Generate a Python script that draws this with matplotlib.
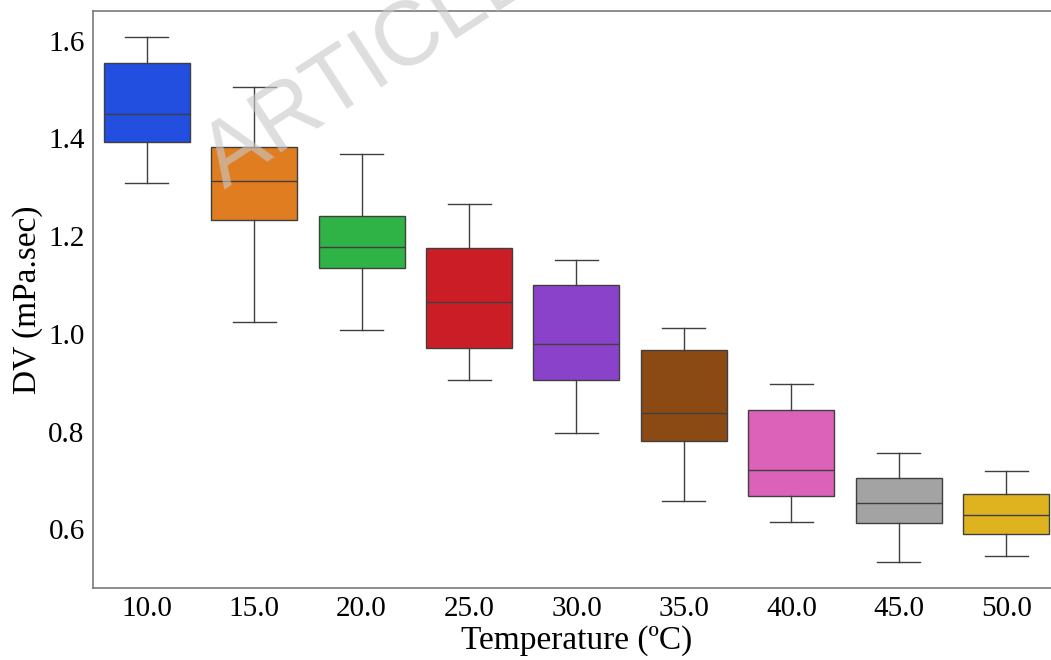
import numpy as np
import matplotlib
matplotlib.use("Agg")
import matplotlib.pyplot as plt
import seaborn as sns

# five-number summaries of DV per temperature
temps = ["10.0", "15.0", "20.0", "25.0", "30.0", "35.0", "40.0", "45.0", "50.0"]
whis_lo = [1.308, 1.024, 1.008, 0.906, 0.797, 0.659, 0.615, 0.534, 0.546]
q1      = [1.392, 1.233, 1.135, 0.971, 0.905, 0.780, 0.669, 0.613, 0.590]
median  = [1.450, 1.313, 1.178, 1.065, 0.980, 0.838, 0.721, 0.655, 0.630]
q3      = [1.554, 1.382, 1.241, 1.176, 1.100, 0.967, 0.845, 0.705, 0.673]
whis_hi = [1.607, 1.505, 1.368, 1.266, 1.151, 1.013, 0.897, 0.757, 0.719]

colors = [sns.desaturate(c, 0.75) for c in sns.color_palette("bright", len(temps))]
line_col = "#3f3f3f"

plt.rcParams["font.family"] = ["Liberation Serif", "DejaVu Serif"]

fig = plt.figure(figsize=(10.51, 6.6), dpi=100)
ax = fig.add_axes([0.0885, 0.109, 0.920, 0.874])

stats = []
for i in range(len(temps)):
    stats.append({"whislo": whis_lo[i], "q1": q1[i], "med": median[i],
                  "q3": q3[i], "whishi": whis_hi[i], "fliers": []})

pos = np.arange(len(temps))
bp = ax.bxp(stats, positions=pos, widths=0.8, patch_artist=True,
            showfliers=False,
            boxprops=dict(edgecolor=line_col, linewidth=1.0),
            medianprops=dict(color=line_col, linewidth=1.0),
            whiskerprops=dict(color=line_col, linewidth=1.0),
            capprops=dict(color=line_col, linewidth=1.0))
for patch, c in zip(bp["boxes"], colors):
    patch.set_facecolor(c)

# caps span half the box width, as seaborn draws them
for i, cap in enumerate(bp["caps"]):
    x = pos[i // 2]
    cap.set_xdata([x - 0.2, x + 0.2])

ax.set_xlim(-0.5, len(temps) - 0.5)
ax.set_ylim(0.480, 1.660)
ax.set_xticks(pos)
ax.set_xticklabels(temps)
ax.set_yticks([0.6, 0.8, 1.0, 1.2, 1.4, 1.6])
ax.set_yticklabels(["0.6", "0.8", "1.0", "1.2", "1.4", "1.6"])
ax.tick_params(length=0, labelsize=21, pad=6)
for s in ax.spines.values():
    s.set_color("#7a7a7a")
    s.set_linewidth(1.2)

ax.set_xlabel("Temperature (ºC)", fontsize=24, labelpad=2)
ax.set_ylabel("DV (mPa.sec)", fontsize=24, labelpad=4)

# watermark
fig.text(0.214, 0.714, "ARTICLE IN PRESS", rotation=33, rotation_mode="anchor",
         ha="left", va="baseline", fontsize=65, family="Liberation Sans",
         color="#c9c9c9", alpha=0.62, zorder=10)

fig.savefig("out.png", dpi=100, facecolor="white")
